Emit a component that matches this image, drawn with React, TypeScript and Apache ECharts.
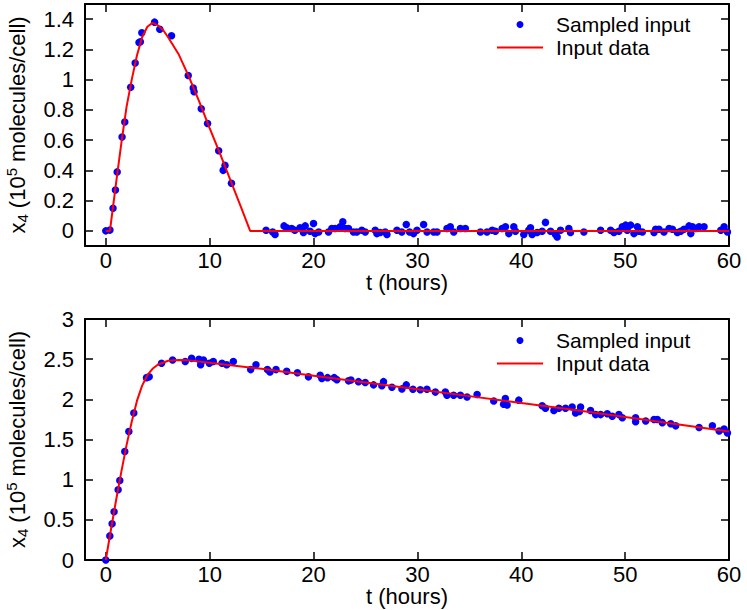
import React, { useEffect, useRef } from "react";
import * as echarts from "echarts";

// ---- Top panel data ----
const topSampleT = [
  0, 0.4, 0.7, 0.93, 1.1, 1.57, 1.83, 2.4, 2.83, 3.2, 3.33, 3.47, 4.7, 5.2, 6.33,
  7.94, 8.42, 8.5, 9.19, 9.8, 10.87, 11.48, 11.3, 12.1,
  15.43, 16.07, 16.3, 17.16, 17.42, 17.9, 18.2, 18.7, 19.03, 19.2, 19.67, 20.0,
  20.15, 20.5, 21.44, 21.76, 22.08, 22.57, 22.82, 23.05, 23.37, 23.85, 24.17,
  24.65, 24.98, 25.94, 26.1, 26.42, 26.9, 27.07, 28.03, 28.5, 28.93, 29.25,
  29.63, 29.96, 30.6, 30.93, 31.57, 31.89, 32.85, 33.17, 33.5, 34.14, 34.62,
  36.07, 36.7, 37.2, 37.51, 38.16, 38.48, 38.8, 39.28, 39.44, 40.24, 40.72,
  40.89, 41.05, 41.53, 42.01, 42.33, 42.82, 43.3, 43.46, 43.78, 44.58, 44.74,
  46.03, 47.64, 48.6, 48.92, 49.4, 49.73, 50.05, 50.21, 50.53, 50.85, 51.18,
  51.33, 51.66, 52.78, 52.94, 53.26, 53.74, 54.23, 54.55, 55.03, 55.35, 55.67,
  56.15, 56.32, 56.48, 56.8, 57.12, 57.6, 59.21, 59.53, 59.85,
];
const topSampleV = [
  0, 0.005, 0.15, 0.27, 0.39, 0.62, 0.72, 0.95, 1.11, 1.245, 1.25, 1.31, 1.38, 1.333, 1.29,
  1.027, 0.945, 0.92, 0.807, 0.71, 0.53, 0.433, 0.4, 0.315,
  0.004, -0.007, -0.024, 0.033, 0.02, 0.016, 0.004, 0.02, -0.011, 0.033, -0.002, 0.049,
  -0.018, -0.007, -0.007, 0.016, 0.016, 0.027, 0.06, 0.016, 0.016, -0.007, -0.007,
  0.004, -0.007, 0.004, -0.018, -0.011, -0.007, -0.024, 0.004, -0.007, 0.042, -0.007,
  -0.018, 0.004, 0.042, -0.007, -0.007, -0.007, 0.016, 0.027, -0.007, 0.016, 0.016,
  -0.007, -0.007, 0.004, -0.002, 0.016, 0.027, -0.018, 0.027, -0.002, -0.024, 0.004,
  0.02, -0.024, -0.011, -0.002, 0.056, -0.002, -0.024, -0.04, 0.004, 0.016, -0.011,
  -0.007, 0.004, 0.004, -0.011, -0.002, 0.027, 0.038, 0.004, 0.038, -0.018, 0.027,
  -0.002, -0.007, -0.011, 0.011, 0.011, -0.007, 0.016, 0.011, -0.011, -0.002, 0.011,
  0.033, -0.018, 0.027, 0.016, 0.027, 0.027, 0.004, 0.027, -0.007,
];
const topCurveT = [0, 0.4, 1, 1.5, 2, 2.5, 3, 3.5, 4, 4.5, 5, 5.5, 6, 7, 8, 9, 10, 11, 12, 13, 13.9, 60];
const topCurveV = [0, 0, 0.32, 0.58, 0.82, 1.0, 1.16, 1.28, 1.35, 1.375, 1.36, 1.33, 1.28, 1.17, 1.02, 0.855, 0.68, 0.51, 0.335, 0.16, 0, 0];

// ---- Bottom panel data ----
const bottomSampleT = [
  0, 0.39, 0.61, 0.8, 1.19, 1.35, 1.83, 2.22, 2.7, 3.92, 4.18, 5.37, 6.43, 7.65,
  8.26, 8.97, 9.13, 9.4, 9.97, 10.35, 11.19, 11.64, 12.28, 13.95, 14.46, 15.56,
  15.81, 16.39, 17.42, 18.45, 19.51, 20.64, 20.8, 21.35, 21.99, 22.25, 23.37,
  23.6, 24.33, 24.98, 25.78, 26.58, 26.74, 27.55, 28.51, 28.93, 29.57, 30.28,
  30.92, 31.73, 32.69, 32.85, 33.49, 34.14, 34.78, 35.75, 37.35, 38.3, 38.47,
  38.64, 39.76, 42.01, 42.33, 43.14, 43.62, 44.26, 44.9, 45.23, 45.71, 45.6,
  46.67, 47.16, 47.64, 48.28, 48.76, 49.4, 49.73, 51.01, 51.01, 51.98, 52.78,
  53.1, 53.58, 54.39, 54.87, 57.12, 58.4, 59.05, 59.53, 59.85,
];
const bottomSampleV = [
  0, 0.3, 0.45, 0.6, 0.875, 0.99, 1.35, 1.6, 1.83, 2.27, 2.28, 2.45, 2.49, 2.47,
  2.51, 2.5, 2.43, 2.49, 2.45, 2.47, 2.45, 2.43, 2.47, 2.37, 2.43, 2.37,
  2.34, 2.37, 2.35, 2.33, 2.28, 2.3, 2.26, 2.27, 2.27, 2.245, 2.23,
  2.24, 2.22, 2.21, 2.18, 2.17, 2.22, 2.15, 2.13, 2.18, 2.125, 2.12,
  2.125, 2.09, 2.09, 2.05, 2.05, 2.05, 2.03, 2.06, 1.98, 1.94, 2.01,
  1.93, 1.99, 1.92, 1.89, 1.86, 1.89, 1.89, 1.905, 1.83, 1.905, 1.85,
  1.86, 1.81, 1.81, 1.82, 1.79, 1.81, 1.77, 1.77, 1.72, 1.73, 1.75,
  1.75, 1.71, 1.695, 1.67, 1.65, 1.67, 1.605, 1.63, 1.58,
];
const bottomCurveT = [0, 0.5, 1, 1.5, 2, 2.5, 3, 3.5, 4, 4.5, 5, 6, 7, 8, 10, 15, 20, 25, 30, 35, 40, 45, 50, 55, 60];
const bottomCurveV = [0, 0.38, 0.75, 1.1, 1.43, 1.72, 1.98, 2.17, 2.3, 2.38, 2.43, 2.48, 2.49, 2.485, 2.455, 2.38, 2.295, 2.21, 2.125, 2.04, 1.955, 1.87, 1.78, 1.69, 1.6];

const SERIES_SAMPLED = "Sampled input";
const SERIES_INPUT = "Input data";
const X_NAME = "t (hours)";

const FONT = '"Liberation Sans", Arial, Helvetica, sans-serif';

const pairs = (a: number[], b: number[]) => a.map((v, i) => [v, b[i]]);

export default function App() {
  const ref = useRef<HTMLDivElement>(null);
  useEffect(() => {
    if (!ref.current) return;
    const chart = echarts.init(ref.current, null, { renderer: "svg" });

    const axisLine = { show: true, onZero: false, lineStyle: { color: "#000", width: 2 } };
    const axisTick = { show: true, inside: true, length: 8, lineStyle: { color: "#000", width: 1.5 } };
    const labelStyle = { color: "#000", fontSize: 22, fontFamily: FONT };

    const xFmt = (v: number) => (Math.abs(v % 10) < 1e-6 ? String(v) : "");
    const yTopFmt = (v: number) =>
      Math.abs(v * 5 - Math.round(v * 5)) < 1e-6 && v > -0.05 && v < 1.45 ? String(Math.round(v * 10) / 10) : "";

    const yName = "{n|x}{sub|4}{n| (10}{sup|5}{n| molecules/cell)}";
    const yNameStyle = {
      color: "#000",
      fontSize: 22,
      fontFamily: FONT,
      rich: {
        n: { fontSize: 22, fontFamily: FONT, color: "#000", lineHeight: 26, verticalAlign: "middle" },
        sub: { fontSize: 15, fontFamily: FONT, color: "#000", lineHeight: 12, verticalAlign: "bottom" },
        sup: { fontSize: 15, fontFamily: FONT, color: "#000", lineHeight: 14, verticalAlign: "top" },
      },
    };

    const mkX = (gridIndex: number, bottom: boolean) => ({
      type: "value",
      gridIndex,
      min: -2,
      max: 60,
      splitNumber: 6,
      position: bottom ? "bottom" : "top",
      axisLine,
      axisTick,
      splitLine: { show: false },
      axisLabel: bottom ? { ...labelStyle, margin: 3, formatter: xFmt } : { show: false },
      name: bottom ? X_NAME : "",
      nameLocation: "middle",
      nameGap: 24,
      nameTextStyle: { color: "#000", fontSize: 22, fontFamily: FONT },
    });

    const mkY = (gridIndex: number, left: boolean, top: boolean) => ({
      type: "value",
      gridIndex,
      min: top ? -0.1 : 0,
      max: top ? 1.5 : 3,
      ...(top ? { splitNumber: 8 } : { interval: 0.5 }),
      position: left ? "left" : "right",
      axisLine,
      axisTick,
      splitLine: { show: false },
      axisLabel: left ? { ...labelStyle, margin: 11, ...(top ? { formatter: yTopFmt } : {}) } : { show: false },
      name: left ? yName : "",
      nameLocation: "middle",
      nameRotate: 90,
      nameGap: 55,
      nameTextStyle: yNameStyle,
    });

    const legendBase = {
      orient: "vertical",
      left: 497,
      padding: 0,
      itemWidth: 46,
      itemHeight: 7,
      itemGap: 0,
      selectedMode: false,
      data: [
        { name: SERIES_SAMPLED, icon: "circle" },
        { name: SERIES_INPUT, icon: "path://M0,0h46v2h-46z" },
      ],
      textStyle: { color: "#000", fontSize: 21, fontFamily: FONT, lineHeight: 23, padding: [0, 0, 0, 8] },
    };

    const scatter = (xi: number, yi: number, data: number[][]) => ({
      name: SERIES_SAMPLED,
      type: "scatter",
      xAxisIndex: xi,
      yAxisIndex: yi,
      symbol: "circle",
      symbolSize: 7.5,
      itemStyle: { color: "#0000ff", opacity: 1 },
      data,
      z: 2,
    });
    const line = (xi: number, yi: number, data: number[][]) => ({
      name: SERIES_INPUT,
      type: "line",
      xAxisIndex: xi,
      yAxisIndex: yi,
      symbol: "none",
      showSymbol: false,
      lineStyle: { color: "#ff0000", width: 2 },
      itemStyle: { color: "#ff0000" },
      data,
      z: 3,
    });

    chart.setOption({
      animation: false,
      backgroundColor: "#fff",
      textStyle: { fontFamily: FONT },
      grid: [
        { left: 85, top: 4, right: 18, height: 242, containLabel: false, outerBoundsMode: "none" },
        { left: 85, top: 319, right: 18, height: 241, containLabel: false, outerBoundsMode: "none" },
      ],
      xAxis: [mkX(0, true), mkX(0, false), mkX(1, true), mkX(1, false)],
      yAxis: [mkY(0, true, true), mkY(0, false, true), mkY(1, true, false), mkY(1, false, false)],
      legend: [
        { ...legendBase, top: 13 },
        { ...legendBase, top: 329 },
      ],
      series: [
        scatter(0, 0, pairs(topSampleT, topSampleV)),
        line(0, 0, pairs(topCurveT, topCurveV)),
        scatter(2, 2, pairs(bottomSampleT, bottomSampleV)),
        line(2, 2, pairs(bottomCurveT, bottomCurveV)),
      ],
    });
    return () => chart.dispose();
  }, []);

  return <div ref={ref} style={{ position: "fixed", left: 0, top: 0, width: 747, height: 610 }} />;
}
